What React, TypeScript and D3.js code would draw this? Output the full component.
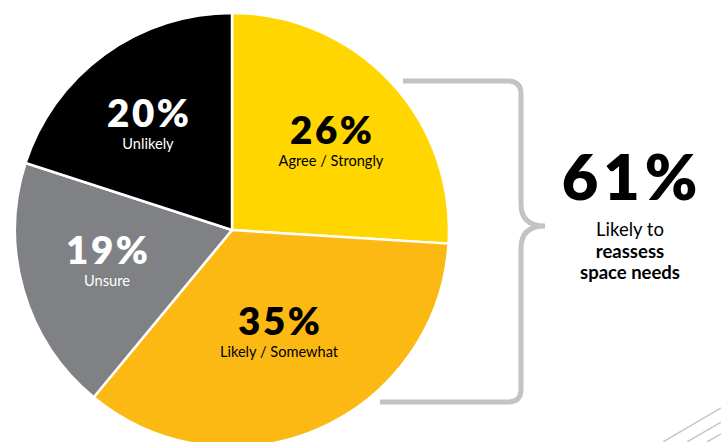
import React from "react";
import * as d3 from "d3";

const categories = ["Agree / Strongly", "Likely / Somewhat", "Unsure", "Unlikely"];
const values = [26, 35, 19, 20];
const colors = ["#FFD600", "#FDB913", "#808184", "#000000"];
const labelColors = ["#000000", "#000000", "#FFFFFF", "#FFFFFF"];
const labelPos: [number, number][] = [
  [331, 145],
  [279, 336],
  [107, 265],
  [148, 128],
];
const totalValue = "61%";
const totalLines = [
  { text: "Likely to", bold: false },
  { text: "reassess", bold: true },
  { text: "space needs", bold: true },
];

const W = 721;
const H = 442;
const cx = 232;
const cy = 230;
const R = 217;
const FONT = "Lato, 'Open Sans', sans-serif";

export default function App() {
  const pie = d3
    .pie<number>()
    .sort(null)
    .value((d) => d)
    .startAngle(0)
    .endAngle(2 * Math.PI);
  const arcs = pie(values);
  const arc = d3.arc<d3.PieArcDatum<number>>().innerRadius(0).outerRadius(R);

  // bracket path
  const bx = 521;
  const top = 81;
  const bot = 402;
  const mid = 226;
  const r = 13;
  const bracket = d3.path();
  bracket.moveTo(403, top);
  bracket.lineTo(bx - r, top);
  bracket.quadraticCurveTo(bx, top, bx, top + r);
  bracket.lineTo(bx, mid - 22);
  bracket.quadraticCurveTo(bx, mid, bx + 24, mid);
  bracket.moveTo(bx + 24, mid);
  bracket.quadraticCurveTo(bx, mid, bx, mid + 22);
  bracket.lineTo(bx, bot - r);
  bracket.quadraticCurveTo(bx, bot, bx - r, bot);
  bracket.lineTo(380, bot);

  const slope = 34 / 58;
  const decoStarts = [663, 687, 707];

  return (
    <svg
      width={W}
      height={H}
      style={{ position: "absolute", left: 0, top: 0, background: "#fff" }}
    >
      <rect width={W} height={H} fill="#fff" />
      <path
        d={bracket.toString()}
        fill="none"
        stroke="#C2C3C5"
        strokeWidth={5}
        strokeLinecap="butt"
        strokeLinejoin="round"
      />
      {decoStarts.map((x0, i) => (
        <line
          key={i}
          x1={x0}
          y1={H}
          x2={W}
          y2={H - (W - x0) * slope}
          stroke="#C8C8C8"
          strokeWidth={1.5}
        />
      ))}
      <g transform={`translate(${cx},${cy})`}>
        {arcs.map((a, i) => (
          <path
            key={i}
            d={arc(a) || ""}
            fill={colors[i]}
            stroke="#fff"
            strokeWidth={2.5}
            strokeLinejoin="round"
          />
        ))}
      </g>
      {arcs.map((a, i) => (
        <g key={"l" + i} fill={labelColors[i]} textAnchor="middle" fontFamily={FONT}>
          <text
            x={labelPos[i][0] + 1.3}
            y={labelPos[i][1] - 1}
            fontSize={38.5}
            fontWeight={800}
            letterSpacing={2.6}
          >
            {values[i]}%
          </text>
          <text x={labelPos[i][0]} y={labelPos[i][1] + 21} fontSize={14.6}>
            {categories[i]}
          </text>
        </g>
      ))}
      <g textAnchor="middle" fontFamily={FONT} fill="#000">
        <text x={632} y={200} fontSize={63} fontWeight={800} letterSpacing={5}>
          {totalValue}
        </text>
        {totalLines.map((l, i) => (
          <text
            key={i}
            x={630}
            y={236 + i * 21.5}
            fontSize={18.5}
            fontWeight={l.bold ? 700 : 400}
          >
            {l.text}
          </text>
        ))}
      </g>
    </svg>
  );
}
